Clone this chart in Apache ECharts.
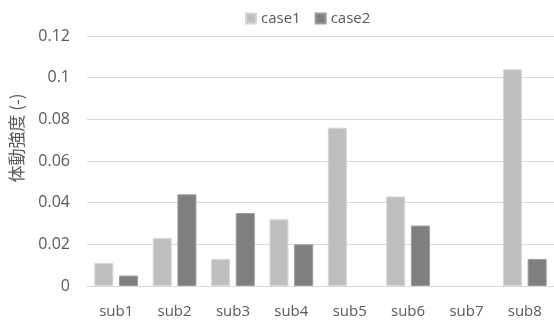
<!DOCTYPE html>
<html>
<head>
<meta charset="utf-8">
<script src="https://cdn.jsdelivr.net/npm/echarts@6/dist/echarts.min.js"></script>
<style>
  html, body { margin: 0; padding: 0; background: #fff; }
  #chart { width: 554px; height: 322px; }
</style>
</head>
<body>
<div id="chart"></div>
<script>
// Subjects on the horizontal axis
const categories = ['sub1', 'sub2', 'sub3', 'sub4', 'sub5', 'sub6', 'sub7', 'sub8'];
// Body movement intensity per subject (null = no value)
const case1 = [0.011, 0.023, 0.013, 0.032, 0.076, 0.043, null, 0.104];
const case2 = [0.005, 0.044, 0.035, 0.020, null, 0.029, null, 0.013];
const seriesNames = ['case1', 'case2'];
const yAxisTitle = '体動強度 (-)';

const latinFont = '"Open Sans", "Noto Sans CJK JP", sans-serif';
const textColor = '#595959';

const chart = echarts.init(document.getElementById('chart'), null, { renderer: 'canvas' });

chart.setOption({
  animation: false,
  backgroundColor: '#ffffff',
  legend: {
    left: 240,
    top: 6,
    itemWidth: 10,
    itemHeight: 10,
    itemGap: 14,
    icon: 'rect',
    textStyle: { color: textColor, fontFamily: latinFont, fontSize: 15 },
    data: seriesNames
  },
  grid: { left: 85, right: 0, top: 36, bottom: 36 },
  xAxis: {
    type: 'category',
    data: categories,
    axisLine: { show: true, lineStyle: { color: '#d9d9d9', width: 1 } },
    axisTick: { show: false },
    axisLabel: { color: textColor, fontFamily: latinFont, fontSize: 15, margin: 18 }
  },
  yAxis: {
    type: 'value',
    min: 0,
    max: 0.12,
    interval: 0.02,
    name: yAxisTitle,
    nameLocation: 'middle',
    nameRotate: 90,
    nameGap: 62,
    nameTextStyle: {
      color: textColor,
      fontFamily: '"Noto Sans CJK JP", sans-serif',
      fontSize: 17,
      padding: [0, 0, 0, 46]
    },
    axisLine: { show: false },
    axisTick: { show: false },
    splitLine: { lineStyle: { color: '#d9d9d9', width: 1 } },
    axisLabel: {
      color: textColor,
      fontFamily: latinFont,
      fontSize: 16,
      margin: 17,
      formatter: v => String(parseFloat(v.toFixed(2)))
    }
  },
  series: [
    {
      name: seriesNames[0],
      type: 'bar',
      data: case1,
      barWidth: 19,
      barGap: '30%',
      itemStyle: { color: '#bfbfbf', borderColor: '#d6d6d6', borderWidth: 1 }
    },
    {
      name: seriesNames[1],
      type: 'bar',
      data: case2,
      barWidth: 19,
      barGap: '30%',
      itemStyle: { color: '#7f7f7f', borderColor: '#9a9a9a', borderWidth: 1 }
    }
  ]
});
</script>
</body>
</html>
